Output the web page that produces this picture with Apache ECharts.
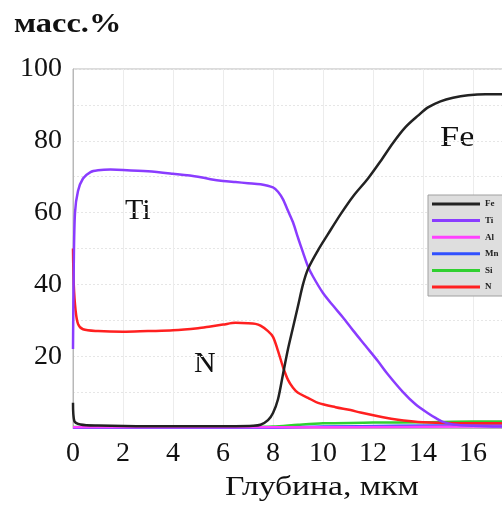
<!DOCTYPE html>
<html>
<head>
<meta charset="utf-8">
<script src="https://cdn.jsdelivr.net/npm/echarts@6/dist/echarts.min.js"></script>
<style>
  html, body { margin: 0; padding: 0; background: #fff; }
  #chart { width: 502px; height: 508px; }
</style>
</head>
<body>
<div id="chart"></div>
<script>
// depth (мкм), mass %
const feData = [[0,7],[0.05,2],[0.3,1],[1,0.7],[3,0.5],[5,0.5],[6.5,0.5],[7.2,0.6],[7.5,0.9],[7.8,2.2],[8,4.2],[8.2,8],[8.4,15],[8.6,22],[8.8,28],[9,34],[9.2,40],[9.4,44.3],[9.8,49.5],[10.2,54],[10.7,59.5],[11.2,64.5],[11.8,69.5],[12.3,74.3],[12.8,79.4],[13.3,83.8],[13.8,87],[14.2,89.3],[14.7,91],[15.2,92],[15.8,92.7],[16.5,93],[17.2,93],[18,93]];
const tiData = [[0,22],[0.03,45],[0.08,60],[0.2,66],[0.4,69.5],[0.7,71.3],[1,71.8],[1.5,72],[2,71.9],[3,71.5],[4,70.8],[5,70],[5.5,69.3],[6,68.8],[6.5,68.5],[7,68.2],[7.5,67.9],[8,67],[8.2,65.8],[8.4,63.7],[8.6,60.5],[8.8,57.3],[9,53],[9.2,48.9],[9.4,45],[9.6,42.2],[10,37.6],[10.4,34.1],[10.8,30.8],[11.2,27.2],[11.7,22.9],[12.2,18.6],[12.6,14.9],[13.2,10],[13.7,6.6],[14.2,4.1],[14.5,2.8],[14.8,1.7],[15.2,1],[16,0.6],[17,0.4],[18,0.4]];
const alData = [[0,0.2],[8,0.2],[12,0.3],[16,0.4],[18,0.4]];
const mnData = [[0,0.1],[8,0.1],[10,0.4],[13,0.6],[16,0.7],[18,0.7]];
const siData = [[0,0.3],[7,0.3],[8,0.4],[9,0.9],[10,1.3],[12,1.5],[14,1.6],[16,1.8],[18,1.8]];
const nData = [[0,50],[0.03,40],[0.1,33],[0.2,29],[0.4,27.5],[1,27],[2,26.8],[3,27],[4,27.2],[5,27.8],[5.5,28.3],[6,28.8],[6.5,29.3],[7,29.2],[7.3,29],[7.5,28.5],[7.8,27],[8,25.4],[8.2,21.5],[8.4,17],[8.6,13.4],[8.8,11.2],[9,9.8],[9.4,8.4],[9.8,7],[10.5,5.8],[11.1,5],[11.5,4.3],[12.4,3],[13,2.3],[13.8,1.7],[14.8,1.4],[16,1.3],[18,1.3]];

const seriesNames = ['Fe', 'Ti', 'Al', 'Mn', 'Si', 'N'];
const seriesColors = ['#222222', '#8a3cff', '#ff40ff', '#3050ff', '#30d030', '#ff2020'];
const seriesData = [feData, tiData, alData, mnData, siData, nData];

const serif = 'Liberation Serif';
const chart = echarts.init(document.getElementById('chart'));

// 그리는 순서: 바닥 선들 먼저, 주요 곡선은 위에
const drawOrder = [4, 3, 2, 5, 1, 0];

// 원본 글꼴이 가로로 넓어서 scaleX 로 맞춤
const textEl = (x, y, text, size, bold, sx) => ({
  type: 'text', x: x, y: y, scaleX: sx || 1,
  style: { text: text, fontFamily: serif, fontSize: size, fontWeight: bold ? 'bold' : 'normal', fill: '#111' }
});

chart.setOption({
  animation: false,
  backgroundColor: '#fff',
  grid: {
    left: 73, top: 69, right: -21, bottom: 80,
    outerBoundsMode: 'none',
    containLabel: false,
    show: true, borderColor: '#b8b8b8', borderWidth: 1
  },
  xAxis: {
    type: 'value', min: 0, max: 18, interval: 2,
    axisLine: { show: true, lineStyle: { color: '#b8b8b8' } },
    axisTick: { show: false },
    axisLabel: { fontFamily: serif, fontSize: 28, color: '#111', margin: 12, showMaxLabel: false },
    splitLine: { show: true, lineStyle: { color: '#ececec', width: 1 } }
  },
  yAxis: {
    type: 'value', min: 0, max: 100, interval: 10,
    axisLine: { show: true, lineStyle: { color: '#b8b8b8' } },
    axisTick: { show: false },
    axisLabel: {
      fontFamily: serif, fontSize: 28, color: '#111', margin: 11,
      formatter: v => (v > 0 && v % 20 === 0) ? String(v) : ''
    },
    splitLine: { show: true, lineStyle: { color: '#e6e6e6', width: 1, type: [2, 2] } }
  },
  legend: {
    orient: 'vertical',
    left: 428, top: 195,
    data: seriesNames,
    icon: 'rect',
    itemWidth: 48, itemHeight: 3,
    itemGap: 6.6,
    padding: [4, 6, 4, 4],
    backgroundColor: '#dedede',
    borderColor: '#a0a0a0', borderWidth: 1,
    textStyle: { fontFamily: serif, fontSize: 9, fontWeight: 'bold', color: '#222', lineHeight: 10 }
  },
  graphic: [
    textEl(14, 12, 'масс.%', 27, true, 1.2),
    textEl(225, 474, 'Глубина, мкм', 28, false, 1.2),
    textEl(125, 196, 'Ti', 30, false),
    textEl(194, 349, 'N', 30, false),
    textEl(440, 123, 'Fe', 30, false, 1.15)
  ],
  series: drawOrder.map(i => ({
    name: seriesNames[i],
    type: 'line',
    data: seriesData[i],
    showSymbol: false,
    smooth: 0.3,
    lineStyle: { color: seriesColors[i], width: 2.5 },
    itemStyle: { color: seriesColors[i] }
  }))
});
</script>
</body>
</html>
